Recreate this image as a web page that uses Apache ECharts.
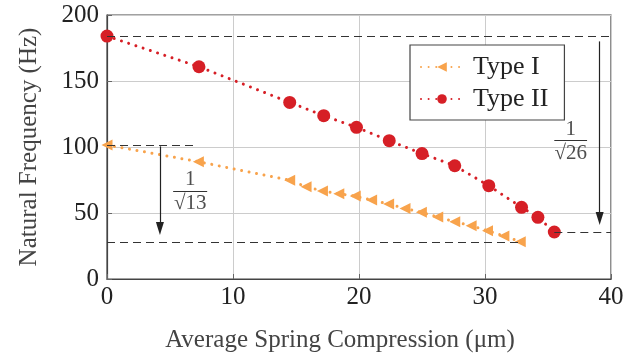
<!DOCTYPE html>
<html>
<head>
<meta charset="utf-8">
<script src="https://cdn.jsdelivr.net/npm/echarts@6/dist/echarts.min.js"></script>
<style>
  html, body { margin: 0; padding: 0; background: #fff; }
  #chart { width: 644px; height: 353px; }
</style>
</head>
<body>
<div id="chart"></div>
<script>
const xTicks = [0, 10, 20, 30, 40];
const yTicks = [0, 50, 100, 150, 200];

const typeIX = [0, 7.25, 14.5, 15.8, 17.1, 18.4, 19.7, 21.0, 22.35, 23.65, 24.95, 26.25, 27.6, 28.9, 30.2, 31.5, 32.8];
const typeIY = [101.5, 88.9, 74.8, 69.9, 66.7, 64.6, 62.8, 59.8, 56.8, 53.5, 50.5, 47.0, 43.4, 40.4, 36.6, 32.6, 28.3];

const typeIIX = [0, 7.3, 14.5, 17.2, 19.8, 22.4, 25.0, 27.6, 30.3, 32.9, 34.2, 35.5];
const typeIIY = [184, 160.8, 133.8, 123.7, 114.9, 104.8, 95.0, 85.8, 70.7, 54.3, 46.7, 35.6];

// reference dashed lines [x1, y1, x2, y2]
const refLines = [
  [0, 184, 40, 184],
  [35.5, 35.6, 40, 35.6],
  [0, 101.5, 7.1, 101.5],
  [0, 27.8, 32.8, 27.8]
];
// arrows [x, yFrom, yTo] (yTo is the centre of the head)
const arrows = [
  [4.2, 100.5, 38.3],
  [39.1, 180, 45.8]
];
// fraction labels [xCenter, yBar, halfWidth, denominator]
const fracs = [
  [6.6, 66.7, 1.35, '√13'],
  [36.8, 105.3, 1.3, '√26']
];

const serif = 'Liberation Serif';
const orange = '#F8A34C';
const red = '#D61F26';

const dotted = (color) => ({ color: color, width: 3, type: [0.01, 7.6], cap: 'round' });

const chart = echarts.init(document.getElementById('chart'));
chart.setOption({
  animation: false,
  grid: {
    left: 107, right: 33, top: 15, bottom: 74,
    outerBoundsMode: 'none',
    show: true, borderColor: '#444', borderWidth: 1.2
  },
  xAxis: {
    type: 'value', min: 0, max: 40, interval: 10,
    name: 'Average Spring Compression (μm)',
    nameLocation: 'middle', nameGap: 49,
    nameTextStyle: { fontFamily: serif, fontSize: 25, color: '#444', padding: [0, 38, 0, 0] },
    axisLine: { lineStyle: { color: '#444', width: 1.2 } },
    axisTick: { inside: true, length: 5, lineStyle: { color: '#666' } },
    axisLabel: { fontFamily: serif, fontSize: 25, color: '#222', margin: 6,
      formatter: (v) => xTicks.includes(v) ? String(v) : '' },
    splitLine: { lineStyle: { color: '#ccc', width: 1 } }
  },
  yAxis: {
    type: 'value', min: 0, max: 200, interval: 50,
    name: 'Natural Frequency (Hz)',
    nameLocation: 'middle', nameGap: 65,
    nameTextStyle: { fontFamily: serif, fontSize: 25, color: '#444' },
    axisLine: { show: true, lineStyle: { color: '#444', width: 1.2 } },
    axisTick: { show: true, inside: true, length: 5, lineStyle: { color: '#666' } },
    axisLabel: { fontFamily: serif, fontSize: 25, color: '#222', margin: 8,
      formatter: (v) => yTicks.includes(v) ? String(v) : '' },
    splitLine: { lineStyle: { color: '#ccc', width: 1 } }
  },
  legend: {
    left: 410, top: 45,
    orient: 'vertical',
    data: ['Type I', 'Type II'],
    backgroundColor: '#fff',
    borderColor: '#444', borderWidth: 1.2,
    padding: [9, 16, 8, 10],
    itemWidth: 42, itemHeight: 12, itemGap: 6,
    textStyle: { fontFamily: serif, fontSize: 26, color: '#222', padding: [0, 0, 0, 5] }
  },
  series: [
    {
      name: 'refs', type: 'line', data: [], silent: true,
      markLine: {
        silent: true, symbol: ['none', 'none'], label: { show: false },
        lineStyle: { color: '#333', width: 1.2, type: [8, 5] },
        data: refLines.map(r => [{ coord: [r[0], r[1]] }, { coord: [r[2], r[3]] }])
      }
    },
    {
      name: 'arrows', type: 'line', data: [], silent: true,
      markLine: {
        silent: true, symbol: ['none', 'triangle'], symbolSize: [8, 13], label: { show: false },
        lineStyle: { color: '#222', width: 1.2, type: 'solid' },
        data: arrows.map(a => [{ coord: [a[0], a[1]] }, { coord: [a[0], a[2]] }])
      }
    },
    {
      name: 'fracBars', type: 'line', data: [], silent: true,
      markLine: {
        silent: true, symbol: ['none', 'none'], label: { show: false },
        lineStyle: { color: '#333', width: 1.2, type: 'solid' },
        data: fracs.map(f => [{ coord: [f[0] - f[2], f[1]] }, { coord: [f[0] + f[2], f[1]] }])
      }
    },
    {
      name: 'fractions', type: 'scatter', symbolSize: 0, silent: true,
      data: fracs.map(f => ({
        value: [f[0], f[1]],
        label: {
          show: true, position: 'inside', offset: [0, 1],
          formatter: '{n|1}\n{d|' + f[3] + '}',
          rich: {
            n: { fontFamily: serif, fontSize: 21, color: '#222', align: 'center', lineHeight: 24 },
            d: { fontFamily: serif, fontSize: 21, color: '#222', align: 'center', lineHeight: 24 }
          }
        }
      }))
    },
    {
      name: 'Type I', type: 'line', z: 3,
      data: typeIX.map((x, i) => [x, typeIY[i]]),
      symbol: 'triangle', symbolRotate: 90, symbolSize: 11,
      itemStyle: { color: orange },
      lineStyle: dotted(orange)
    },
    {
      name: 'Type II', type: 'line', z: 4,
      data: typeIIX.map((x, i) => [x, typeIIY[i]]),
      symbol: 'circle', symbolSize: 13,
      itemStyle: { color: red },
      lineStyle: dotted(red)
    }
  ]
});
</script>
</body>
</html>
